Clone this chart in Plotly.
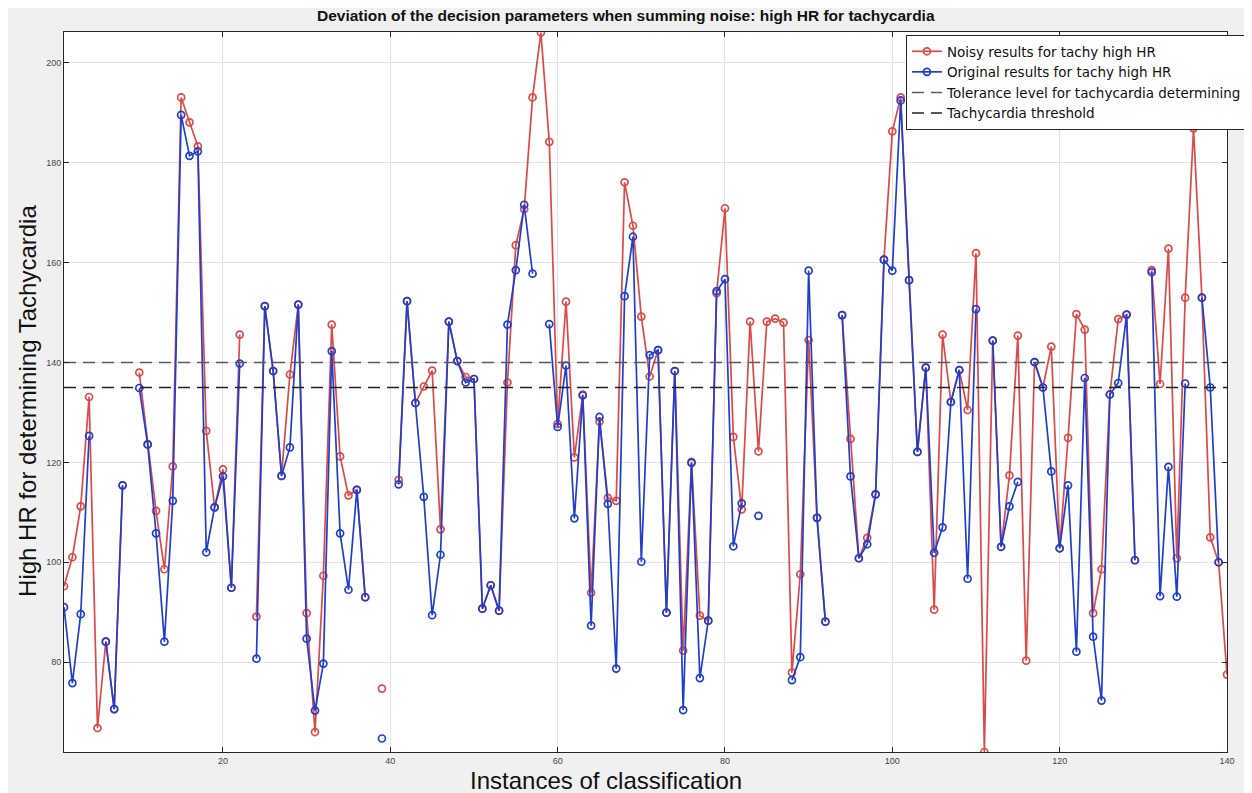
import plotly.graph_objects as go

N = None
instances = list(range(1, 141))

noisy_hr = [
    95.2, 101.0, 111.2, 133.1, 66.8, 84.1, 70.6, 115.4, N, 138.0,
    123.6, 110.3, 98.6, 119.2, 193.1, 188.1, 183.3, 126.3, 111.0, 118.6,
    94.9, 145.6, N, 89.1, 151.3, 138.3, 117.3, 137.6, 151.6, 89.8,
    66.0, 97.3, 147.6, 121.2, 113.4, 114.5, 93.0, N, 74.7, N,
    116.5, 152.3, 131.9, 135.2, 138.4, 106.6, 148.2, 140.3, 137.1, 136.7,
    90.7, 95.4, 90.3, 136.0, 163.5, 170.7, 193.1, 206.1, 184.2, 127.7,
    152.2, 121.0, 133.6, 93.9, 128.2, 112.9, 112.3, 176.1, 167.4, 149.2,
    137.2, 142.5, 89.9, 138.3, 82.3, 120.1, 89.3, 88.3, 153.9, 170.9,
    125.1, 110.6, 148.2, 122.2, 148.2, 148.8, 148.0, 77.9, 97.6, 144.5,
    108.9, 88.1, N, 149.5, 124.7, 100.8, 104.9, 113.6, 160.6, 186.3,
    193.1, 156.5, 122.1, 139.0, 90.5, 145.6, 132.1, 138.5, 130.5, 161.9,
    62.0, 144.4, 103.1, 117.4, 145.4, 80.3, 140.1, 135.0, 143.2, 102.8,
    124.9, 149.7, 146.6, 89.8, 98.6, 133.6, 148.7, 149.6, 100.4, N,
    158.5, 135.7, 162.8, 100.8, 153.0, 186.9, 153.0, 105.0, 100.0, 77.5,
]

original_hr = [
    91.0, 75.8, 89.6, 125.3, N, 84.1, 70.6, 115.4, N, 134.9,
    123.6, 105.8, 84.1, 112.3, 189.6, 181.4, 182.3, 102.0, 111.0, 117.2,
    94.9, 139.8, N, 80.7, 151.3, 138.3, 117.3, 123.0, 151.6, 84.7,
    70.3, 79.7, 142.3, 105.8, 94.5, 114.5, 93.0, N, 64.7, N,
    115.6, 152.3, 131.9, 113.1, 89.4, 101.5, 148.2, 140.3, 136.0, 136.7,
    90.7, 95.4, 90.3, 147.6, 158.5, 171.6, 157.8, N, 147.7, 127.1,
    139.4, 108.8, 133.4, 87.3, 129.1, 111.7, 78.7, 153.3, 165.2, 100.1,
    141.5, 142.5, 89.9, 138.3, 70.4, 119.9, 76.8, 88.3, 154.3, 156.7,
    103.2, 111.8, N, 109.3, N, N, N, 76.4, 81.0, 158.4,
    108.9, 88.1, N, 149.5, 117.2, 100.8, 103.6, 113.6, 160.6, 158.4,
    192.5, 156.5, 122.1, 139.0, 101.9, 107.0, 132.1, 138.5, 96.7, 150.7,
    N, 144.4, 103.1, 111.2, 116.1, N, 140.1, 135.0, 118.2, 102.8,
    115.4, 82.1, 136.9, 85.1, 72.3, 133.6, 135.9, 149.6, 100.4, N,
    158.1, 93.2, 119.1, 93.1, 135.8, N, 153.0, 135.0, 100.0, N,
]

tolerance_level = 140
tachy_threshold = 135
x_ticks = [20, 40, 60, 80, 100, 120, 140]
y_ticks = [80, 100, 120, 140, 160, 180, 200]

RED = "#dd4a47"
BLUE = "#1f3fcf"
SANS = "Liberation Sans, Arial, sans-serif"

fig = go.Figure()
fig.add_trace(go.Scatter(
    x=instances, y=noisy_hr, mode="lines+markers",
    name="Noisy results for tachy high HR",
    line=dict(color=RED, width=1.7),
    marker=dict(symbol="circle-open", size=7, color=RED, line=dict(width=1.7)),
))
fig.add_trace(go.Scatter(
    x=instances, y=original_hr, mode="lines+markers",
    name="Original results for tachy high HR",
    line=dict(color=BLUE, width=1.7),
    marker=dict(symbol="circle-open", size=7, color=BLUE, line=dict(width=1.7)),
))
fig.add_trace(go.Scatter(
    x=[instances[0], instances[-1]], y=[tolerance_level, tolerance_level], mode="lines",
    name="Tolerance level for tachycardia determining",
    line=dict(color="#5a5a5a", width=1.5, dash="12px,7px"),
))
fig.add_trace(go.Scatter(
    x=[instances[0], instances[-1]], y=[tachy_threshold, tachy_threshold], mode="lines",
    name="Tachycardia threshold",
    line=dict(color="#222222", width=1.5, dash="12px,7px"),
))

axis_common = dict(
    showline=True, linecolor="#262626", linewidth=1, mirror="ticks",
    ticks="inside", ticklen=5, tickcolor="#262626",
    showgrid=True, gridcolor="#e3e3e3", gridwidth=1, zeroline=False,
    tickfont=dict(size=9, color="#444444", family=SANS),
)

fig.update_layout(
    width=1252, height=793,
    paper_bgcolor="#f0f0f0", plot_bgcolor="#ffffff",
    margin=dict(l=56, r=33, t=24, b=49),
    showlegend=True,
    legend=dict(
        x=1.018, y=0.9958, xanchor="right", yanchor="top",
        bgcolor="#ffffff", bordercolor="#262626", borderwidth=1,
        font=dict(size=13.5, color="#111111", family="DejaVu Sans, Liberation Sans, sans-serif"),
        itemwidth=30, tracegroupgap=0,
    ),
    xaxis=dict(range=[1, 140], tickvals=x_ticks, **axis_common),
    yaxis=dict(range=[62.0, 206.2], tickvals=y_ticks, **axis_common),
    annotations=[
        dict(text="<b>Deviation of the decision parameters when summing noise: high HR for tachycardia</b>",
             xref="paper", yref="paper", x=0.483, y=1.0236, xanchor="center", yanchor="middle",
             showarrow=False, font=dict(size=15.5, color="#111111", family=SANS)),
        dict(text="Instances of classification",
             xref="paper", yref="paper", x=0.466, y=-0.0389, xanchor="center", yanchor="middle",
             showarrow=False, font=dict(size=24, color="#111111", family=SANS)),
        dict(text="High HR for determining Tachycardia", textangle=-90,
             xref="paper", yref="paper", x=-0.031, y=0.4875, xanchor="center", yanchor="middle",
             showarrow=False, font=dict(size=24, color="#111111", family=SANS)),
    ],
)

fig.write_html("out.html")
